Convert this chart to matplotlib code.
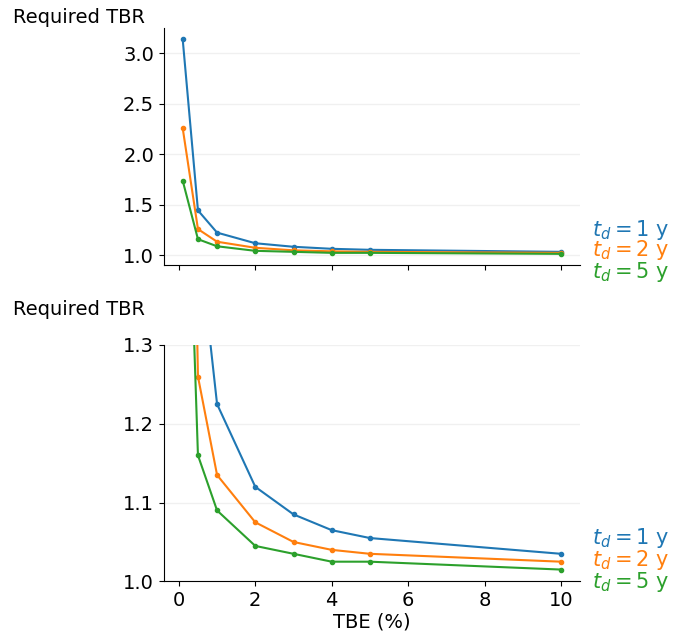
import numpy as np
import matplotlib.pyplot as plt

# TBE values and required TBR for each doubling time
tbe = [0.1, 0.5, 1, 2, 3, 4, 5, 10]
tbr_1y = [3.14, 1.445, 1.225, 1.12, 1.085, 1.065, 1.055, 1.035]
tbr_2y = [2.26, 1.26, 1.135, 1.075, 1.05, 1.04, 1.035, 1.025]
tbr_5y = [1.74, 1.16, 1.09, 1.045, 1.035, 1.025, 1.025, 1.015]
labels = ['$t_d = 1$ y', '$t_d = 2$ y', '$t_d = 5$ y']
colors = ['tab:blue', 'tab:orange', 'tab:green']

plt.rcParams['font.size'] = 14

fig, axs = plt.subplots(2, 1, figsize=(6.88, 6.41), sharex=True)
fig.subplots_adjust(left=0.238, right=0.843, top=0.956, bottom=0.093, hspace=0.34)

series = [tbr_1y, tbr_2y, tbr_5y]
# label offsets in points from the last point of each line
offsets = [[16, 2, -13], [11.5, 1.5, -8.6]]
title_y = [1.005, 1.11]

for k, ax in enumerate(axs):
    for vals, lab, c, off in zip(series, labels, colors, offsets[k]):
        ax.plot(tbe, vals, '.-', color=c, lw=1.5, ms=6)
        ax.annotate(lab, xy=(1, vals[-1]), xycoords=('axes fraction', 'data'),
                    xytext=(9, off), textcoords='offset points', color=c,
                    va='center', ha='left', fontsize=15, annotation_clip=False)
    ax.spines['top'].set_visible(False)
    ax.spines['right'].set_visible(False)
    ax.grid(axis='y', color='#f0f0f0', lw=1)
    ax.set_axisbelow(True)
    ax.text(-0.363, title_y[k], 'Required TBR', transform=ax.transAxes, ha='left', va='bottom')

axs[0].set_yticks([1.0, 1.5, 2.0, 2.5, 3.0])
axs[1].set_ylim(1.0, 1.3)
axs[1].set_yticks([1.0, 1.1, 1.2, 1.3])
axs[1].set_xticks([0, 2, 4, 6, 8, 10])
axs[1].set_xlabel('TBE (%)', labelpad=2)

plt.savefig('out.png', dpi=100)
